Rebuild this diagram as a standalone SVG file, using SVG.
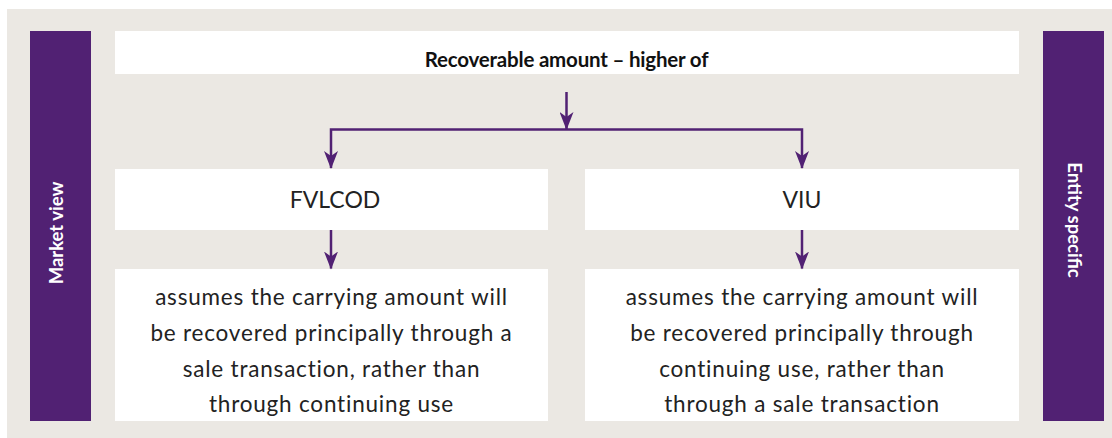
<svg xmlns="http://www.w3.org/2000/svg" width="1112" height="438" viewBox="0 0 1112 438">
  <style>
    .panel { fill: #ebe8e3; }
    .box { fill: #ffffff; }
    .bar { fill: #512173; }
    .side { font-family: Lato, "Liberation Sans", sans-serif; font-size: 18.5px; font-weight: 700; fill: #ffffff; text-anchor: middle; }
    .title { font-family: Lato, "Liberation Sans", sans-serif; font-size: 20.5px; font-weight: 700; fill: #111111; text-anchor: middle; letter-spacing: -0.2px; }
    .head { font-family: Lato, "Liberation Sans", sans-serif; font-size: 23px; font-weight: 400; fill: #222222; text-anchor: middle; }
    .body { font-family: Lato, "Liberation Sans", sans-serif; font-size: 22.5px; font-weight: 400; fill: #222222; text-anchor: middle; letter-spacing: 0.8px; }
    .link { fill: none; stroke: #512173; stroke-width: 2.5; stroke-linejoin: miter; }
  </style>
  <defs>
    <marker id="arrow" markerUnits="userSpaceOnUse" viewBox="0 0 18 14" markerWidth="18" markerHeight="14" refX="17" refY="7" orient="auto-start-reverse">
      <path d="M0,0 L18,7 L0,14 L5,7 Z" fill="#512173"/>
    </marker>
  </defs>

  <!-- backdrop -->
  <rect class="panel" x="7" y="9" width="1105" height="429"/>

  <!-- side bars -->
  <g id="market-view">
    <rect class="bar" x="30" y="31" width="61" height="390"/>
    <text class="side" transform="translate(62.5 233) rotate(-90)">Market view</text>
  </g>
  <g id="entity-specific">
    <rect class="bar" x="1043" y="31" width="61" height="390"/>
    <text class="side" transform="translate(1067.5 220) rotate(90)">Entity specific</text>
  </g>

  <!-- top node -->
  <g id="recoverable-amount">
    <rect class="box" x="115" y="31" width="904" height="43"/>
    <text class="title" x="566.5" y="67">Recoverable amount – higher of</text>
  </g>

  <!-- measures -->
  <g id="fvlcod">
    <rect class="box" x="115" y="169" width="433" height="61"/>
    <text class="head" x="335" y="208">FVLCOD</text>
  </g>
  <g id="viu">
    <rect class="box" x="585" y="169" width="434" height="61"/>
    <text class="head" x="802" y="208">VIU</text>
  </g>

  <!-- descriptions -->
  <g id="fvlcod-desc">
    <rect class="box" x="115" y="269" width="433" height="152"/>
    <text class="body" x="331.5" y="304.5">assumes the carrying amount will</text>
    <text class="body" x="331.5" y="340.5">be recovered principally through a</text>
    <text class="body" x="331.5" y="376.5">sale transaction, rather than</text>
    <text class="body" x="331.5" y="412">through continuing use</text>
  </g>
  <g id="viu-desc">
    <rect class="box" x="585" y="269" width="434" height="152"/>
    <text class="body" x="802" y="304.5">assumes the carrying amount will</text>
    <text class="body" x="802" y="340.5">be recovered principally through</text>
    <text class="body" x="802" y="376.5">continuing use, rather than</text>
    <text class="body" x="802" y="412">through a sale transaction</text>
  </g>

  <!-- connectors -->
  <g id="connectors">
    <path class="link" d="M566.5,92 V129" marker-end="url(#arrow)"/>
    <path class="link" d="M331,168 V129.5 H802 V168" marker-start="url(#arrow)" marker-end="url(#arrow)"/>
    <path class="link" d="M331,230 V268.5" marker-end="url(#arrow)"/>
    <path class="link" d="M802,230 V268.5" marker-end="url(#arrow)"/>
  </g>
</svg>
